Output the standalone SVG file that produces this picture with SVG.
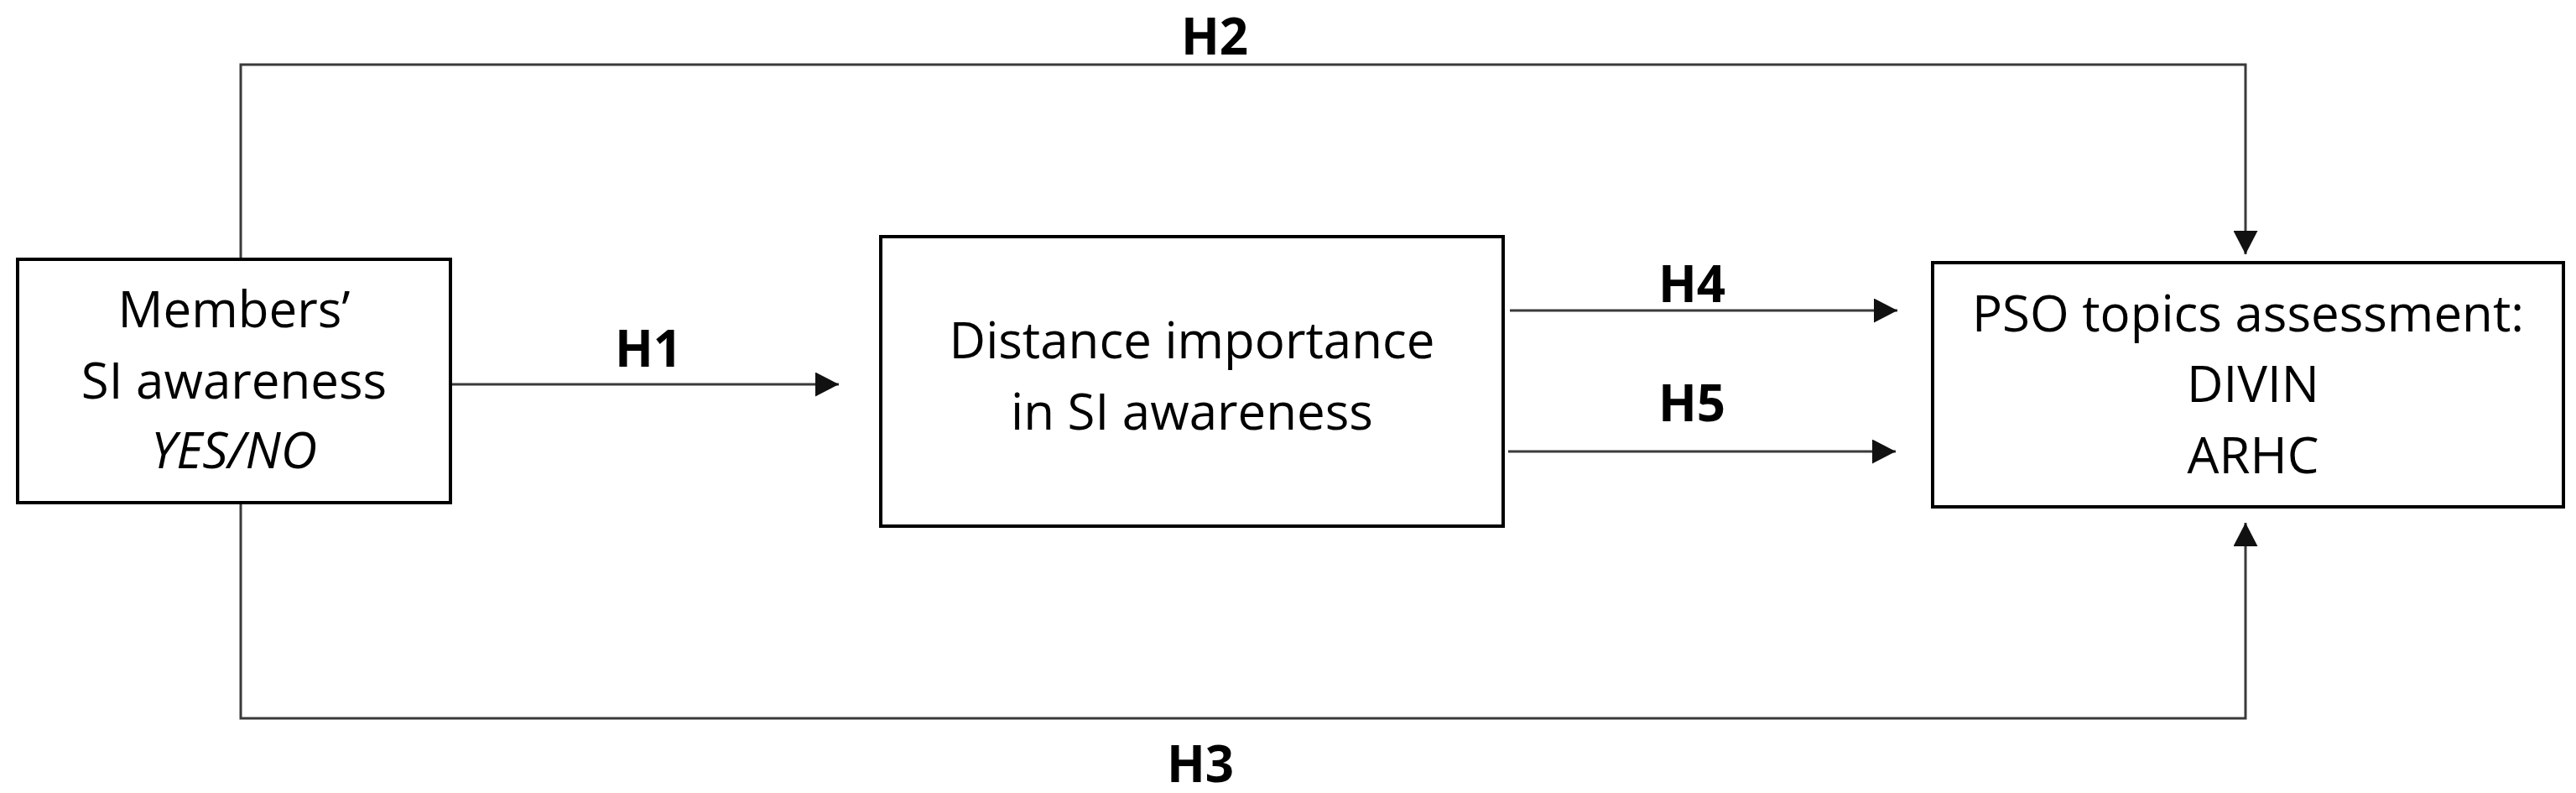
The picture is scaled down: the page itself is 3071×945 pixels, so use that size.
<svg xmlns="http://www.w3.org/2000/svg" width="3071" height="945" viewBox="0 0 3071 945">
  <style>
    .box { fill: #ffffff; stroke: #000000; stroke-width: 4; }
    .txt { font-family: "Open Sans", "Liberation Sans", sans-serif; font-size: 60px; fill: #000000; text-anchor: middle; }
    .lbl { font-family: "Open Sans", "Liberation Sans", sans-serif; font-size: 60px; font-weight: bold; fill: #000000; text-anchor: middle; }
    .con { fill: none; stroke: #3a3a3a; stroke-width: 3; }
  </style>
  <defs>
    <marker id="arrow" markerUnits="userSpaceOnUse" markerWidth="29" markerHeight="29" refX="28" refY="14.5" orient="auto">
      <path d="M0,0 L28,14.5 L0,29 Z" fill="#111111"/>
    </marker>
  </defs>
  <rect width="3071" height="945" fill="#ffffff"/>

  <g id="connectors">
    <path id="h1" class="con" d="M537,458 L1000,458" marker-end="url(#arrow)"/>
    <path id="h2" class="con" d="M287,309 L287,77 L2677,77 L2677,303" marker-end="url(#arrow)"/>
    <path id="h3" class="con" d="M287,599 L287,856 L2677,856 L2677,623" marker-end="url(#arrow)"/>
    <path id="h4" class="con" d="M1800,370 L2262,370" marker-end="url(#arrow)"/>
    <path id="h5" class="con" d="M1798,538 L2260,538" marker-end="url(#arrow)"/>
  </g>

  <g id="node-members">
    <rect class="box" x="21" y="309" width="516" height="290"/>
    <text class="txt" x="279" y="390">Members’</text>
    <text class="txt" x="279" y="475">SI awareness</text>
    <text class="txt" x="279" y="558" font-style="italic">YES/NO</text>
  </g>

  <g id="node-distance">
    <rect class="box" x="1050" y="282" width="742" height="345"/>
    <text class="txt" x="1421" y="427">Distance importance</text>
    <text class="txt" x="1421" y="512">in SI awareness</text>
  </g>

  <g id="node-pso">
    <rect class="box" x="2304" y="313" width="752" height="291"/>
    <text class="txt" x="2680" y="395">PSO topics assessment:</text>
    <text class="txt" x="2686" y="479">DIVIN</text>
    <text class="txt" x="2686" y="564">ARHC</text>
  </g>

  <g id="labels">
    <text class="lbl" x="773" y="437">H1</text>
    <text class="lbl" x="1448" y="65">H2</text>
    <text class="lbl" x="1431" y="932">H3</text>
    <text class="lbl" x="2017" y="360">H4</text>
    <text class="lbl" x="2017" y="502">H5</text>
  </g>
</svg>
